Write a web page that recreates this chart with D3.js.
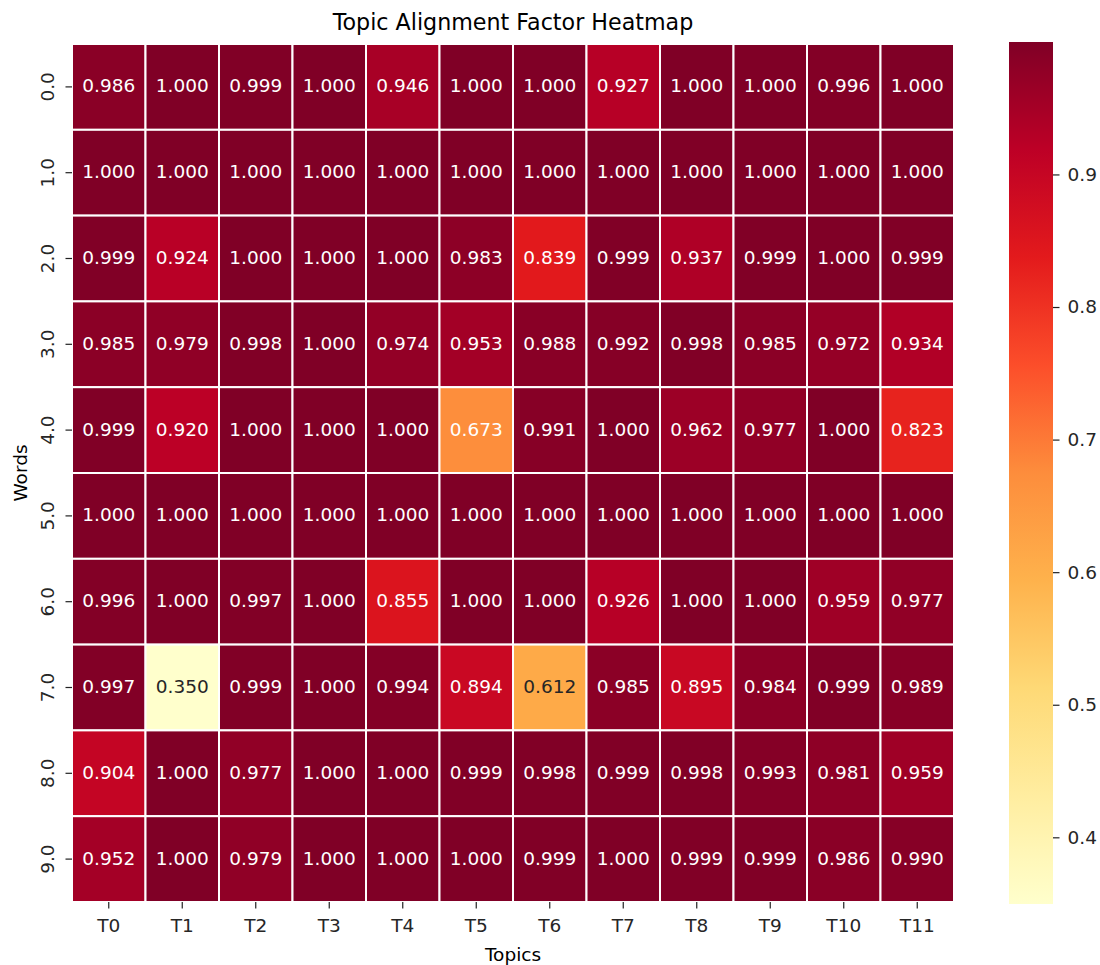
<!DOCTYPE html>
<html>
<head>
<meta charset="utf-8">
<script src="https://cdn.jsdelivr.net/npm/d3@7"></script>
<style>
  html, body { margin: 0; padding: 0; background: #fff; }
  svg { display: block; font-family: "DejaVu Sans", sans-serif; }
</style>
</head>
<body>
<svg id="chart" width="1100" height="965"></svg>
<script>
// Topics along x, words along y
const topics = ["T0","T1","T2","T3","T4","T5","T6","T7","T8","T9","T10","T11"];
const words = ["0.0","1.0","2.0","3.0","4.0","5.0","6.0","7.0","8.0","9.0"];

// Alignment factor, one array per word row
const row0 = [0.986, 1.000, 0.999, 1.000, 0.946, 1.000, 1.000, 0.927, 1.000, 1.000, 0.996, 1.000];
const row1 = [1.000, 1.000, 1.000, 1.000, 1.000, 1.000, 1.000, 1.000, 1.000, 1.000, 1.000, 1.000];
const row2 = [0.999, 0.924, 1.000, 1.000, 1.000, 0.983, 0.839, 0.999, 0.937, 0.999, 1.000, 0.999];
const row3 = [0.985, 0.979, 0.998, 1.000, 0.974, 0.953, 0.988, 0.992, 0.998, 0.985, 0.972, 0.934];
const row4 = [0.999, 0.920, 1.000, 1.000, 1.000, 0.673, 0.991, 1.000, 0.962, 0.977, 1.000, 0.823];
const row5 = [1.000, 1.000, 1.000, 1.000, 1.000, 1.000, 1.000, 1.000, 1.000, 1.000, 1.000, 1.000];
const row6 = [0.996, 1.000, 0.997, 1.000, 0.855, 1.000, 1.000, 0.926, 1.000, 1.000, 0.959, 0.977];
const row7 = [0.997, 0.350, 0.999, 1.000, 0.994, 0.894, 0.612, 0.985, 0.895, 0.984, 0.999, 0.989];
const row8 = [0.904, 1.000, 0.977, 1.000, 1.000, 0.999, 0.998, 0.999, 0.998, 0.993, 0.981, 0.959];
const row9 = [0.952, 1.000, 0.979, 1.000, 1.000, 1.000, 0.999, 1.000, 0.999, 0.999, 0.986, 0.990];
const rows = [row0, row1, row2, row3, row4, row5, row6, row7, row8, row9];

const colorbarTicks = [0.4, 0.5, 0.6, 0.7, 0.8, 0.9];
const valueMin = 0.3497;
const valueMax = 0.9999;

// YlOrRd stops (ColorBrewer, 9 classes), linearly interpolated
const ylOrRd = ["#ffffcc","#ffeda0","#fed976","#feb24c","#fd8d3c","#fc4e2a","#e31a1c","#bd0026","#800026"];
const stopPos = ylOrRd.map((_, i) => i / (ylOrRd.length - 1));
const cmap = d3.scaleLinear().domain(stopPos).range(ylOrRd).interpolate(d3.interpolateRgb).clamp(true);
const norm = d3.scaleLinear().domain([valueMin, valueMax]).clamp(true);
const colorOf = v => cmap(norm(v));

// Text colour chosen from the luminance of the cell
function luminance(c) {
  const rgb = d3.rgb(c);
  const lin = [rgb.r, rgb.g, rgb.b].map(x => {
    x /= 255;
    return x <= 0.03928 ? x / 12.92 : Math.pow((x + 0.055) / 1.055, 2.4);
  });
  return 0.2126 * lin[0] + 0.7152 * lin[1] + 0.0722 * lin[2];
}

const FONT = 18.5;
const svg = d3.select("#chart");
const plot = { left: 72, top: 44, right: 954, bottom: 902 };

const x = d3.scaleBand().domain(topics).range([plot.left, plot.right]).padding(0);
const y = d3.scaleBand().domain(words).range([plot.top, plot.bottom]).padding(0);

const cells = [];
rows.forEach((r, i) => r.forEach((v, j) => cells.push({ word: words[i], topic: topics[j], value: v })));

const g = svg.append("g");
g.selectAll("rect.cell").data(cells).join("rect")
  .attr("class", "cell")
  .attr("x", d => x(d.topic))
  .attr("y", d => y(d.word))
  .attr("width", x.bandwidth())
  .attr("height", y.bandwidth())
  .attr("fill", d => colorOf(d.value))
  .attr("stroke", "#fff")
  .attr("stroke-width", 2);

g.selectAll("text.annot").data(cells).join("text")
  .attr("class", "annot")
  .attr("x", d => x(d.topic) + x.bandwidth() / 2)
  .attr("y", d => y(d.word) + y.bandwidth() / 2)
  .attr("dy", "0.3em")
  .attr("text-anchor", "middle")
  .attr("font-size", FONT + "px")
  .attr("fill", d => luminance(colorOf(d.value)) > 0.408 ? "#262626" : "#ffffff")
  .text(d => d.value.toFixed(3));

// X axis
const xAxis = svg.append("g")
  .attr("transform", `translate(0,${plot.bottom})`)
  .call(d3.axisBottom(x).tickSize(6.5).tickPadding(10));
xAxis.select(".domain").remove();
xAxis.selectAll("line").attr("stroke", "#222").attr("stroke-width", 1.2);
xAxis.selectAll("text").attr("font-size", FONT + "px").attr("fill", "#262626")
  .attr("font-family", "DejaVu Sans, sans-serif");

// Y axis with vertical labels
const yAxis = svg.append("g")
  .attr("transform", `translate(${plot.left},0)`)
  .call(d3.axisLeft(y).tickSize(6.5).tickPadding(0));
yAxis.select(".domain").remove();
yAxis.selectAll("line").attr("stroke", "#222").attr("stroke-width", 1.2);
yAxis.selectAll("text")
  .attr("font-size", FONT + "px").attr("fill", "#262626")
  .attr("font-family", "DejaVu Sans, sans-serif")
  .attr("text-anchor", "middle")
  .attr("transform", "rotate(-90)")
  .attr("x", 0)
  .attr("y", -25)
  .attr("dy", "0.36em");

// Titles
svg.append("text")
  .attr("x", (plot.left + plot.right) / 2).attr("y", 30)
  .attr("text-anchor", "middle").attr("font-size", "22.2px").attr("fill", "#000")
  .text("Topic Alignment Factor Heatmap");

svg.append("text")
  .attr("x", (plot.left + plot.right) / 2).attr("y", 961)
  .attr("text-anchor", "middle").attr("font-size", FONT + "px").attr("fill", "#000")
  .text("Topics");

svg.append("text")
  .attr("transform", `translate(27,${(plot.top + plot.bottom) / 2}) rotate(-90)`)
  .attr("text-anchor", "middle").attr("font-size", FONT + "px").attr("fill", "#000")
  .text("Words");

// Colour bar
const cb = { x: 1009, w: 44, top: 42, bottom: 904 };
const cbScale = d3.scaleLinear().domain([valueMin, valueMax]).range([cb.bottom, cb.top]);
const defs = svg.append("defs");
const grad = defs.append("linearGradient").attr("id", "cbgrad")
  .attr("x1", 0).attr("y1", 1).attr("x2", 0).attr("y2", 0);
ylOrRd.forEach((c, i) => grad.append("stop").attr("offset", stopPos[i]).attr("stop-color", c));
svg.append("rect")
  .attr("x", cb.x).attr("y", cb.top)
  .attr("width", cb.w).attr("height", cb.bottom - cb.top)
  .attr("fill", "url(#cbgrad)");

const cbAxis = svg.append("g")
  .attr("transform", `translate(${cb.x + cb.w},0)`)
  .call(d3.axisRight(cbScale).tickValues(colorbarTicks).tickFormat(d3.format(".1f")).tickSize(6.5).tickPadding(8));
cbAxis.select(".domain").remove();
cbAxis.selectAll("line").attr("stroke", "#222").attr("stroke-width", 1.2);
cbAxis.selectAll("text").attr("font-size", FONT + "px").attr("fill", "#262626")
  .attr("font-family", "DejaVu Sans, sans-serif");
</script>
</body>
</html>
